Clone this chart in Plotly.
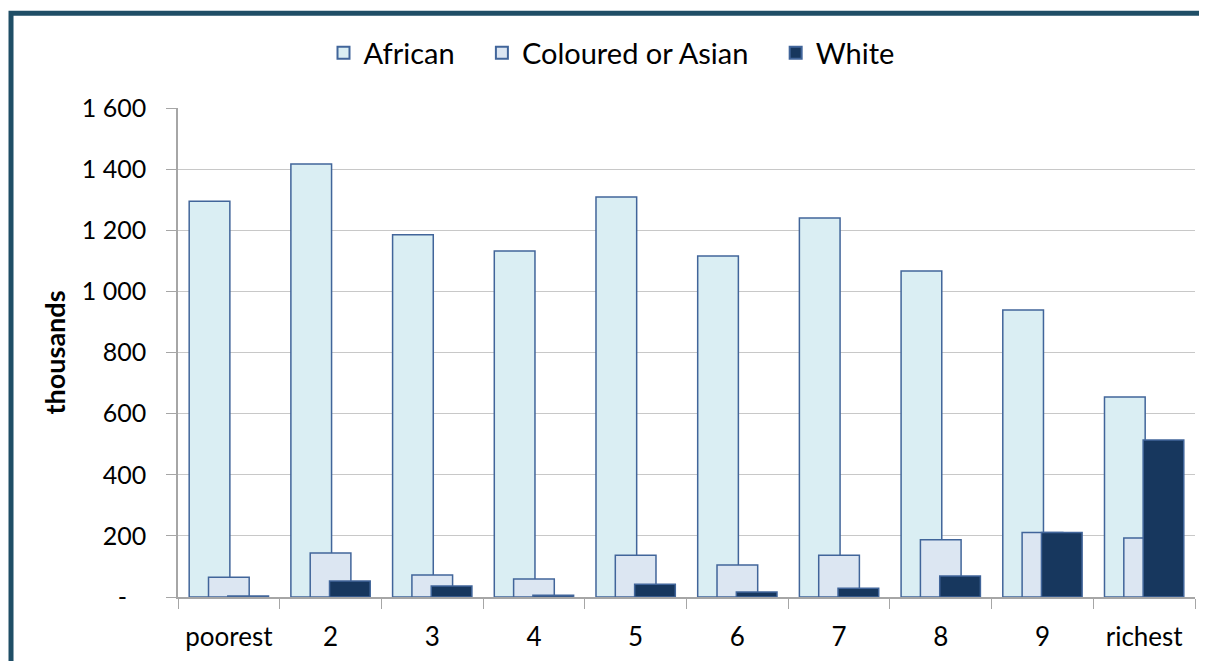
import plotly.graph_objects as go

categories = ["poorest", "2", "3", "4", "5", "6", "7", "8", "9", "richest"]
african = [1295, 1417, 1185, 1132, 1309, 1116, 1240, 1067, 939, 654]
coloured_asian = [65, 144, 72, 59, 137, 105, 137, 187, 211, 193]
white = [3, 52, 36, 6, 42, 16, 29, 69, 211, 514]
ytick_vals = [0, 200, 400, 600, 800, 1000, 1200, 1400, 1600]
ytick_text = ["-\u00a0\u00a0\u00a0", "200", "400", "600", "800", "1 000", "1 200", "1 400", "1 600"]

pad = "\u00a0\u00a0\u00a0"  # extra room between legend entries
edge = "#41659A"
fig = go.Figure()
fig.add_trace(go.Bar(x=categories, y=african, name="African" + pad, width=0.4, offset=-0.39,
                     marker=dict(color="#DAEEF3", line=dict(color=edge, width=1.5))))
fig.add_trace(go.Bar(x=categories, y=coloured_asian, name="Coloured or Asian" + pad, width=0.4, offset=-0.2,
                     marker=dict(color="#DCE6F2", line=dict(color=edge, width=1.5))))
fig.add_trace(go.Bar(x=categories, y=white, name="White", width=0.4, offset=-0.01,
                     marker=dict(color="#17375E", line=dict(color=edge, width=1.5))))

# page has an 8px body margin, so the canvas is shifted by 8px
fig.update_layout(
    width=1207, height=661,
    barmode="overlay",
    paper_bgcolor="white", plot_bgcolor="white",
    font=dict(family="Lato", size=25, color="black"),
    margin=dict(l=170, r=20, t=100, b=72, autoexpand=False),
    showlegend=True,
    legend=dict(orientation="h", x=0.5, xanchor="center", xref="container",
                y=1 - 45 / 661, yanchor="middle", yref="container",
                font=dict(size=29), itemsizing="constant", traceorder="normal"),
    xaxis=dict(type="category", tickson="boundaries", ticks="outside", ticklen=10,
               tickcolor="#A6A6A6", showline=True, linecolor="#A6A6A6", linewidth=1.5,
               showgrid=False, fixedrange=True, ticklabelstandoff=16,
               tickfont=dict(size=26)),
    yaxis=dict(range=[0, 1600], tickvals=ytick_vals, ticktext=ytick_text,
               ticks="outside", ticklen=10, tickcolor="#A6A6A6",
               showline=True, linecolor="#A6A6A6", linewidth=1.5,
               gridcolor="#C8C8C8", gridwidth=1.2, zeroline=False,
               ticklabelstandoff=15,
               title=dict(text="<b>thousands</b>", font=dict(size=27), standoff=8)),
)

# frame around the chart (top and left edges visible)
fig.add_shape(type="rect", xref="paper", yref="paper",
              x0=-0.1642, x1=1.05, y0=-0.3, y1=1.194,
              line=dict(color="#1F4E66", width=5), layer="above")

fig.write_html("out.html")
